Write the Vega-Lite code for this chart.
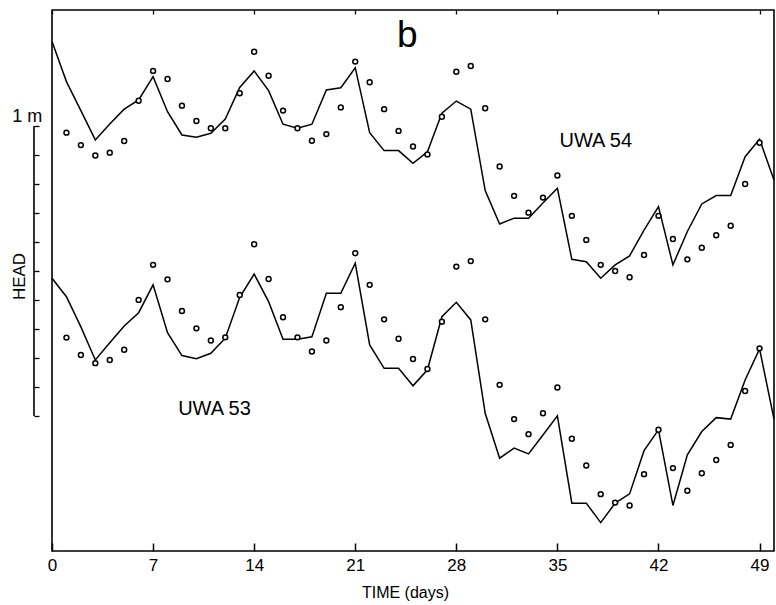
{
"$schema": "https://vega.github.io/schema/vega-lite/v6.json",
"width": 722, "height": 541,
"autosize": "none",
"padding": {"left": 52, "top": 10, "right": 2, "bottom": 54},
"background": "white",
"config": {"view": {"stroke": "black", "strokeWidth": 1.6}, "font": "Liberation Sans"},
"datasets": {
"computed": [
{"w":"UWA 54","d":0,"h":1.291},{"w":"UWA 54","d":1,"h":1.153},{"w":"UWA 54","d":2,"h":1.053},{"w":"UWA 54","d":3,"h":0.952},{"w":"UWA 54","d":4,"h":1.007},{"w":"UWA 54","d":5,"h":1.058},{"w":"UWA 54","d":6,"h":1.090},{"w":"UWA 54","d":7,"h":1.170},{"w":"UWA 54","d":8,"h":1.049},{"w":"UWA 54","d":9,"h":0.969},{"w":"UWA 54","d":10,"h":0.961},{"w":"UWA 54","d":11,"h":0.975},{"w":"UWA 54","d":12,"h":1.024},{"w":"UWA 54","d":13,"h":1.133},{"w":"UWA 54","d":14,"h":1.190},{"w":"UWA 54","d":15,"h":1.122},{"w":"UWA 54","d":16,"h":1.006},{"w":"UWA 54","d":17,"h":0.992},{"w":"UWA 54","d":18,"h":1.006},{"w":"UWA 54","d":19,"h":1.124},{"w":"UWA 54","d":20,"h":1.132},{"w":"UWA 54","d":21,"h":1.201},{"w":"UWA 54","d":22,"h":0.977},{"w":"UWA 54","d":23,"h":0.915},{"w":"UWA 54","d":24,"h":0.915},{"w":"UWA 54","d":25,"h":0.871},{"w":"UWA 54","d":26,"h":0.911},{"w":"UWA 54","d":27,"h":1.044},{"w":"UWA 54","d":28,"h":1.086},{"w":"UWA 54","d":29,"h":1.058},{"w":"UWA 54","d":30,"h":0.777},{"w":"UWA 54","d":31,"h":0.662},{"w":"UWA 54","d":32,"h":0.682},{"w":"UWA 54","d":33,"h":0.682},{"w":"UWA 54","d":34,"h":0.734},{"w":"UWA 54","d":35,"h":0.785},{"w":"UWA 54","d":36,"h":0.540},{"w":"UWA 54","d":37,"h":0.532},{"w":"UWA 54","d":38,"h":0.475},{"w":"UWA 54","d":39,"h":0.521},{"w":"UWA 54","d":40,"h":0.552},{"w":"UWA 54","d":41,"h":0.641},{"w":"UWA 54","d":42,"h":0.722},{"w":"UWA 54","d":43,"h":0.521},{"w":"UWA 54","d":44,"h":0.636},{"w":"UWA 54","d":45,"h":0.731},{"w":"UWA 54","d":46,"h":0.760},{"w":"UWA 54","d":47,"h":0.760},{"w":"UWA 54","d":48,"h":0.894},{"w":"UWA 54","d":49,"h":0.954},{"w":"UWA 54","d":50,"h":0.814},
{"w":"UWA 53","d":0,"h":0.475},{"w":"UWA 53","d":1,"h":0.411},{"w":"UWA 53","d":2,"h":0.307},{"w":"UWA 53","d":3,"h":0.193},{"w":"UWA 53","d":4,"h":0.252},{"w":"UWA 53","d":5,"h":0.310},{"w":"UWA 53","d":6,"h":0.356},{"w":"UWA 53","d":7,"h":0.452},{"w":"UWA 53","d":8,"h":0.287},{"w":"UWA 53","d":9,"h":0.208},{"w":"UWA 53","d":10,"h":0.197},{"w":"UWA 53","d":11,"h":0.216},{"w":"UWA 53","d":12,"h":0.268},{"w":"UWA 53","d":13,"h":0.409},{"w":"UWA 53","d":14,"h":0.489},{"w":"UWA 53","d":15,"h":0.394},{"w":"UWA 53","d":16,"h":0.264},{"w":"UWA 53","d":17,"h":0.264},{"w":"UWA 53","d":18,"h":0.273},{"w":"UWA 53","d":19,"h":0.423},{"w":"UWA 53","d":20,"h":0.423},{"w":"UWA 53","d":21,"h":0.527},{"w":"UWA 53","d":22,"h":0.245},{"w":"UWA 53","d":23,"h":0.164},{"w":"UWA 53","d":24,"h":0.164},{"w":"UWA 53","d":25,"h":0.104},{"w":"UWA 53","d":26,"h":0.159},{"w":"UWA 53","d":27,"h":0.342},{"w":"UWA 53","d":28,"h":0.392},{"w":"UWA 53","d":29,"h":0.331},{"w":"UWA 53","d":30,"h":0.009},{"w":"UWA 53","d":31,"h":-0.146},{"w":"UWA 53","d":32,"h":-0.111},{"w":"UWA 53","d":33,"h":-0.131},{"w":"UWA 53","d":34,"h":-0.066},{"w":"UWA 53","d":35,"h":0.000},{"w":"UWA 53","d":36,"h":-0.301},{"w":"UWA 53","d":37,"h":-0.301},{"w":"UWA 53","d":38,"h":-0.368},{"w":"UWA 53","d":39,"h":-0.301},{"w":"UWA 53","d":40,"h":-0.269},{"w":"UWA 53","d":41,"h":-0.120},{"w":"UWA 53","d":42,"h":-0.048},{"w":"UWA 53","d":43,"h":-0.309},{"w":"UWA 53","d":44,"h":-0.134},{"w":"UWA 53","d":45,"h":-0.054},{"w":"UWA 53","d":46,"h":-0.006},{"w":"UWA 53","d":47,"h":-0.011},{"w":"UWA 53","d":48,"h":0.124},{"w":"UWA 53","d":49,"h":0.231},{"w":"UWA 53","d":50,"h":-0.011}
],
"observed": [
{"w":"UWA 54","d":1,"h":0.977},{"w":"UWA 54","d":2,"h":0.934},{"w":"UWA 54","d":3,"h":0.898},{"w":"UWA 54","d":4,"h":0.908},{"w":"UWA 54","d":5,"h":0.948},{"w":"UWA 54","d":6,"h":1.087},{"w":"UWA 54","d":7,"h":1.190},{"w":"UWA 54","d":8,"h":1.162},{"w":"UWA 54","d":9,"h":1.070},{"w":"UWA 54","d":10,"h":1.017},{"w":"UWA 54","d":11,"h":0.992},{"w":"UWA 54","d":12,"h":0.992},{"w":"UWA 54","d":13,"h":1.113},{"w":"UWA 54","d":14,"h":1.256},{"w":"UWA 54","d":15,"h":1.173},{"w":"UWA 54","d":16,"h":1.053},{"w":"UWA 54","d":17,"h":0.992},{"w":"UWA 54","d":18,"h":0.949},{"w":"UWA 54","d":19,"h":0.972},{"w":"UWA 54","d":20,"h":1.064},{"w":"UWA 54","d":21,"h":1.222},{"w":"UWA 54","d":22,"h":1.151},{"w":"UWA 54","d":23,"h":1.058},{"w":"UWA 54","d":24,"h":0.983},{"w":"UWA 54","d":25,"h":0.929},{"w":"UWA 54","d":26,"h":0.902},{"w":"UWA 54","d":27,"h":1.032},{"w":"UWA 54","d":28,"h":1.187},{"w":"UWA 54","d":29,"h":1.207},{"w":"UWA 54","d":30,"h":1.061},{"w":"UWA 54","d":31,"h":0.860},{"w":"UWA 54","d":32,"h":0.759},{"w":"UWA 54","d":33,"h":0.701},{"w":"UWA 54","d":34,"h":0.753},{"w":"UWA 54","d":35,"h":0.829},{"w":"UWA 54","d":36,"h":0.690},{"w":"UWA 54","d":37,"h":0.607},{"w":"UWA 54","d":38,"h":0.521},{"w":"UWA 54","d":39,"h":0.500},{"w":"UWA 54","d":40,"h":0.478},{"w":"UWA 54","d":41,"h":0.555},{"w":"UWA 54","d":42,"h":0.690},{"w":"UWA 54","d":43,"h":0.610},{"w":"UWA 54","d":44,"h":0.540},{"w":"UWA 54","d":45,"h":0.580},{"w":"UWA 54","d":46,"h":0.623},{"w":"UWA 54","d":47,"h":0.656},{"w":"UWA 54","d":48,"h":0.800},{"w":"UWA 54","d":49,"h":0.942},
{"w":"UWA 53","d":1,"h":0.270},{"w":"UWA 53","d":2,"h":0.210},{"w":"UWA 53","d":3,"h":0.182},{"w":"UWA 53","d":4,"h":0.193},{"w":"UWA 53","d":5,"h":0.228},{"w":"UWA 53","d":6,"h":0.400},{"w":"UWA 53","d":7,"h":0.521},{"w":"UWA 53","d":8,"h":0.471},{"w":"UWA 53","d":9,"h":0.362},{"w":"UWA 53","d":10,"h":0.302},{"w":"UWA 53","d":11,"h":0.260},{"w":"UWA 53","d":12,"h":0.271},{"w":"UWA 53","d":13,"h":0.417},{"w":"UWA 53","d":14,"h":0.592},{"w":"UWA 53","d":15,"h":0.472},{"w":"UWA 53","d":16,"h":0.340},{"w":"UWA 53","d":17,"h":0.271},{"w":"UWA 53","d":18,"h":0.222},{"w":"UWA 53","d":19,"h":0.260},{"w":"UWA 53","d":20,"h":0.375},{"w":"UWA 53","d":21,"h":0.561},{"w":"UWA 53","d":22,"h":0.452},{"w":"UWA 53","d":23,"h":0.333},{"w":"UWA 53","d":24,"h":0.266},{"w":"UWA 53","d":25,"h":0.196},{"w":"UWA 53","d":26,"h":0.162},{"w":"UWA 53","d":27,"h":0.325},{"w":"UWA 53","d":28,"h":0.515},{"w":"UWA 53","d":29,"h":0.534},{"w":"UWA 53","d":30,"h":0.333},{"w":"UWA 53","d":31,"h":0.107},{"w":"UWA 53","d":32,"h":-0.011},{"w":"UWA 53","d":33,"h":-0.063},{"w":"UWA 53","d":34,"h":0.009},{"w":"UWA 53","d":35,"h":0.098},{"w":"UWA 53","d":36,"h":-0.079},{"w":"UWA 53","d":37,"h":-0.171},{"w":"UWA 53","d":38,"h":-0.270},{"w":"UWA 53","d":39,"h":-0.299},{"w":"UWA 53","d":40,"h":-0.309},{"w":"UWA 53","d":41,"h":-0.201},{"w":"UWA 53","d":42,"h":-0.048},{"w":"UWA 53","d":43,"h":-0.180},{"w":"UWA 53","d":44,"h":-0.258},{"w":"UWA 53","d":45,"h":-0.198},{"w":"UWA 53","d":46,"h":-0.152},{"w":"UWA 53","d":47,"h":-0.100},{"w":"UWA 53","d":48,"h":0.086},{"w":"UWA 53","d":49,"h":0.233}
]
},
"resolve": {"axis": {"x": "independent", "y": "independent"}},
"layer": [
{
"data": {"name": "computed"},
"mark": {"type": "line", "color": "black", "strokeWidth": 1.5},
"encoding": {
"x": {"field": "d", "type": "quantitative", "scale": {"domain": [0, 50], "nice": false, "zero": false},
"axis": {"orient": "bottom", "values": [0,7,14,21,28,35,42,49], "domain": false, "grid": false, "tickSize": -8, "tickColor": "black", "tickWidth": 1.5, "labelFontSize": 17, "labelFont": "Liberation Sans Narrow, Liberation Sans, sans-serif", "labelColor": "black", "labelPadding": 14, "labelFlush": false, "labelDx": 2, "labelOverlap": false, "title": "TIME (days)", "titleFontSize": 16, "titleFontWeight": "normal", "titleColor": "black", "titleFont": "Liberation Sans", "titleX": 353, "titleY": 46, "titleBaseline": "alphabetic"}},
"y": {"field": "h", "type": "quantitative", "scale": {"domain": [-0.466, 1.4], "nice": false, "zero": false},
"axis": {"orient": "left", "offset": 18, "values": [0,0.1,0.2,0.3,0.4,0.5,0.6,0.7,0.8,0.9,1], "domain": false, "grid": false, "tickSize": -5, "tickColor": "black", "tickWidth": 1.3, "labelExpr": "datum.value > 0.99 ? '1 m' : ''", "labelFontSize": 18, "labelColor": "black", "labelPadding": -2.7, "labelBaseline": "bottom", "labelAlign": "right", "labelOverlap": false, "title": "HEAD", "titleFontSize": 17, "titleFontWeight": "normal", "titleColor": "black", "titleX": -5.4, "titleY": 266, "titleAngle": -90, "titleBaseline": "bottom", "titleAlign": "center"}},
"detail": {"field": "w"}
}
},
{
"data": {"name": "observed"},
"mark": {"type": "point", "shape": "circle", "size": 24, "filled": true, "fill": "white", "stroke": "black", "strokeWidth": 1.5, "opacity": 1},
"encoding": {
"x": {"field": "d", "type": "quantitative", "scale": {"domain": [0, 50], "nice": false, "zero": false},
"axis": {"orient": "top", "values": [0,7,14,21,28,35,42,49], "domain": false, "grid": false, "tickSize": -4, "tickColor": "black", "tickWidth": 1.3, "labels": false, "title": null}},
"y": {"field": "h", "type": "quantitative", "scale": {"domain": [-0.466, 1.4], "nice": false, "zero": false}, "axis": null}
}
},
{
"data": {"values": [{}]},
"mark": {"type": "rule", "color": "black", "strokeWidth": 1.6},
"encoding": {
"x": {"datum": -1.248, "type": "quantitative", "scale": {"domain": [0, 50], "nice": false, "zero": false}, "axis": null},
"y": {"datum": 0, "type": "quantitative", "scale": {"domain": [-0.466, 1.4], "nice": false, "zero": false}, "axis": null},
"y2": {"datum": 1}
}
},
{
"data": {"values": [{}]},
"mark": {"type": "text", "fontSize": 37, "align": "center", "baseline": "alphabetic", "color": "black", "font": "Liberation Sans"},
"encoding": {
"x": {"datum": 24.6, "type": "quantitative", "scale": {"domain": [0, 50], "nice": false, "zero": false}, "axis": null},
"y": {"datum": 1.273, "type": "quantitative", "scale": {"domain": [-0.466, 1.4], "nice": false, "zero": false}, "axis": null},
"text": {"value": "b"}
}
},
{
"data": {"values": [{}]},
"mark": {"type": "text", "fontSize": 20, "align": "center", "baseline": "alphabetic", "color": "black", "font": "Liberation Sans"},
"encoding": {
"x": {"datum": 37.66, "type": "quantitative", "scale": {"domain": [0, 50], "nice": false, "zero": false}, "axis": null},
"y": {"datum": 0.929, "type": "quantitative", "scale": {"domain": [-0.466, 1.4], "nice": false, "zero": false}, "axis": null},
"text": {"value": "UWA 54"}
}
},
{
"data": {"values": [{}]},
"mark": {"type": "text", "fontSize": 20, "align": "center", "baseline": "alphabetic", "color": "black", "font": "Liberation Sans"},
"encoding": {
"x": {"datum": 11.25, "type": "quantitative", "scale": {"domain": [0, 50], "nice": false, "zero": false}, "axis": null},
"y": {"datum": 0.003, "type": "quantitative", "scale": {"domain": [-0.466, 1.4], "nice": false, "zero": false}, "axis": null},
"text": {"value": "UWA 53"}
}
}
]
}
